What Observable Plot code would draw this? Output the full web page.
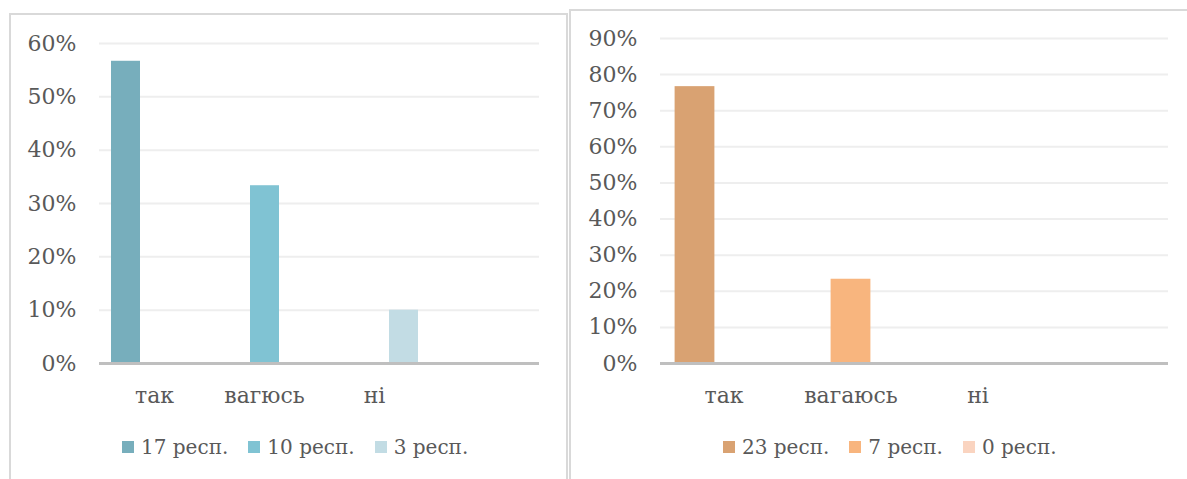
<!DOCTYPE html>
<html>
<head>
<meta charset="utf-8">
<script src="https://cdn.jsdelivr.net/npm/d3@7"></script>
<script src="https://cdn.jsdelivr.net/npm/@observablehq/plot@0.6"></script>
<style>
  html, body { margin: 0; padding: 0; background: #fff; }
  body { width: 1187px; height: 479px; overflow: hidden; position: relative; font-family: "DejaVu Serif", serif; }
  .box { position: absolute; border: 2px solid #d9d9d9; border-bottom: none; box-sizing: border-box; }
  #boxL { left: 9px; top: 13px; width: 559px; height: 480px; }
  #boxR { left: 569px; top: 9px; width: 640px; height: 480px; }
  .chart, .legend { position: absolute; }
  .legend div { font-family: "DejaVu Serif", serif !important; font-size: 20px !important; color: #595959 !important; }
  .legend div > span { margin-right: 20px !important; }
  .legend div > span > svg { margin-right: 7px !important; }
</style>
</head>
<body>
<div class="box" id="boxL"></div>
<div class="box" id="boxR"></div>
<div class="chart" id="chartL" style="left:11px; top:15px;"></div>
<div class="chart" id="chartR" style="left:571px; top:11px;"></div>
<div class="legend" id="legendL" style="left:122px; top:430px;"></div>
<div class="legend" id="legendR" style="left:723px; top:430px;"></div>
<script>
// Left chart: answer categories, respondent groups and their counts
const categoriesL = ["так", "вагюсь", "ні", ""];
const seriesL = ["17 респ.", "10 респ.", "3 респ."];
const countsL = [17, 10, 3];
const colorsL = ["#77aebc", "#80c3d3", "#c2dce4"];
const ticksL = [0, 0.1, 0.2, 0.3, 0.4, 0.5, 0.6];

// Right chart
const categoriesR = ["так", "вагаюсь", "ні", ""];
const seriesR = ["23 респ.", "7 респ.", "0 респ."];
const countsR = [23, 7, 0];
const colorsR = ["#d9a272", "#f8b57e", "#fad4c0"];
const ticksR = [0, 0.1, 0.2, 0.3, 0.4, 0.5, 0.6, 0.7, 0.8, 0.9];

const FONT = "'DejaVu Serif', serif";

// Each respondent group is one series; its bar sits in its own answer category
function rowsFor(categories, series, counts) {
  const total = d3.sum(counts);
  const rows = [];
  categories.forEach((c, ci) => {
    series.forEach((s, si) => {
      rows.push({category: c, series: s, share: si === ci ? counts[si] / total : 0});
    });
  });
  return rows;
}

function chart({categories, series, counts, colors, ticks, width, height, margin, paddingOuter, inset}) {
  const rows = rowsFor(categories, series, counts);
  return Plot.plot({
    width, height,
    marginLeft: margin[0], marginRight: margin[1], marginTop: margin[2], marginBottom: margin[3],
    style: {fontFamily: FONT, fontSize: "22px", color: "#595959", background: "transparent", overflow: "visible"},
    facet: {data: rows, x: "category"},
    fx: {domain: categories, padding: 0, axis: "bottom", tickSize: 0, tickPadding: 24, label: null},
    x: {domain: series, paddingInner: 0, paddingOuter, axis: null},
    y: {domain: [0, ticks[ticks.length - 1]], ticks, tickFormat: d => `${Math.round(d * 100)}%`, tickSize: 0, tickPadding: 23, label: null},
    color: {domain: series, range: colors},
    marks: [
      Plot.ruleY(ticks.slice(1), {stroke: "#eeeeee", strokeWidth: 2}),
      Plot.barY(rows, {x: "series", y: "share", fill: "series", insetLeft: inset, insetRight: inset}),
      Plot.ruleY([0], {stroke: "#bfbfbf", strokeWidth: 3})
    ]
  });
}

document.getElementById("chartL").append(chart({
  categories: categoriesL, series: seriesL, counts: countsL, colors: colorsL, ticks: ticksL,
  width: 555, height: 398, margin: [87, 27, 28, 50], paddingOuter: 0.385, inset: 0
}));
document.getElementById("chartR").append(chart({
  categories: categoriesR, series: seriesR, counts: countsR, colors: colorsR, ticks: ticksR,
  width: 616, height: 402, margin: [87, 18, 27, 50], paddingOuter: 0.684, inset: -5.4
}));

document.getElementById("legendL").append(Plot.legend({
  color: {type: "ordinal", domain: seriesL, range: colorsL}, swatchSize: 12
}));
document.getElementById("legendR").append(Plot.legend({
  color: {type: "ordinal", domain: seriesR, range: colorsR}, swatchSize: 12
}));
</script>
</body>
</html>
